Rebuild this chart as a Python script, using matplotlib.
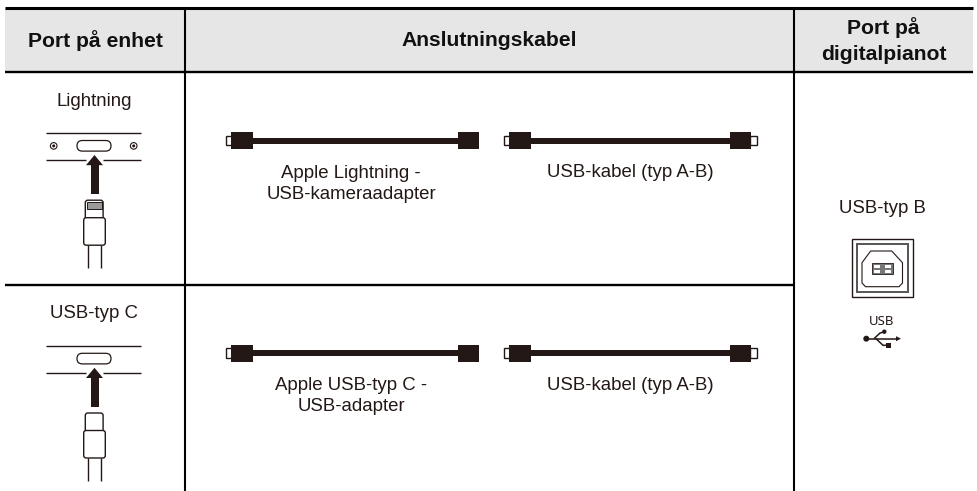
import matplotlib
matplotlib.use("Agg")
import matplotlib.pyplot as plt
from matplotlib.patches import FancyBboxPatch, Rectangle, Circle, Polygon

plt.rcParams["font.family"] = ["Liberation Sans", "DejaVu Sans"]

W, H = 978, 491
INK = "#231815"
HEAD_BG = "#e6e6e6"

headers = ["Port på enhet", "Anslutningskabel", "Port på\ndigitalpianot"]
device_ports = ["Lightning", "USB-typ C"]
left_cables = ["Apple Lightning -\nUSB-kameraadapter", "Apple USB-typ C -\nUSB-adapter"]
right_cable = "USB-kabel (typ A-B)"
piano_port = "USB-typ B"


def line(ax, xs, ys, lw=1.0, color=INK):
    ax.plot(xs, ys, color=color, lw=lw, solid_capstyle="butt", solid_joinstyle="miter")


def rrect(ax, x, y, w, h, r, fc="white", ec=INK, lw=0.9):
    ax.add_patch(FancyBboxPatch((x + r, y + r), w - 2 * r, h - 2 * r,
                                boxstyle=f"round,pad={r},rounding_size={r}",
                                fc=fc, ec=ec, lw=lw, zorder=3))


def cable(ax, x0, x1, y, left_tip, right_tip):
    # plug tip, black plug body, thick cord
    if left_tip:
        ax.add_patch(Rectangle((x0 - 5.5, y - 4.8), 7, 9.6, fc="white", ec=INK, lw=1.0))
    if right_tip:
        ax.add_patch(Rectangle((x1 - 1, y - 4.8), 7, 9.6, fc="white", ec=INK, lw=1.0))
    ax.add_patch(Rectangle((x0, y - 8.5), 21.5, 17, fc=INK, ec="none", zorder=2))
    ax.add_patch(Rectangle((x1 - 21.5, y - 8.5), 21.5, 17, fc=INK, ec="none", zorder=2))
    ax.add_patch(Rectangle((x0, y - 3.2), x1 - x0, 6.4, fc=INK, ec="none", zorder=2))


def device(ax, y, lightning):
    cx = 94.5
    # panel edge lines and socket
    line(ax, [46, 141], [y, y], 1.0)
    line(ax, [46, 86], [y + 27, y + 27], 1.0)
    line(ax, [103, 141], [y + 27, y + 27], 1.0)
    rrect(ax, 77, y + 7.8, 34, 10.6, 5.3)
    if lightning:
        for sx in (53.7, 133.7):
            ax.add_patch(Circle((sx, y + 13.2), 3.3, fc="white", ec=INK, lw=0.8, zorder=3))
            ax.add_patch(Circle((sx, y + 13.2), 1.5, fc=INK, ec="none", zorder=3))
    else:
        line(ax, [86, 101], [y + 13, y + 13], 1.0)
    # arrow
    ax.add_patch(Rectangle((cx - 4, y + 32), 8, 29, fc=INK, ec="none", zorder=4))
    ax.add_patch(Polygon([[cx, y + 22.3], [cx + 8.5, y + 32.5], [cx - 8.5, y + 32.5]],
                         fc=INK, ec="none", zorder=4))
    # plug tip, body, cord
    rrect(ax, 85.3, y + 67.5, 17.8, 20, 2.5, lw=1.0)
    if lightning:
        ax.add_patch(Rectangle((87, y + 69.5), 15, 6.5, fc="#9a9a9a", ec=INK, lw=0.7, zorder=4))
    rrect(ax, 83.7, y + 85, 21.6, 27.5, 2.5, lw=1.0)
    line(ax, [88, 88], [y + 112.5, y + 135], 1.0)
    line(ax, [101, 101], [y + 112.5, y + 135], 1.0)


def usb_b(ax):
    ax.add_patch(Rectangle((851.7, 239.3), 61, 57.4, fc="white", ec=INK, lw=1.0))
    ax.add_patch(Rectangle((856.7, 243.5), 51.6, 48.8, fc="white", ec="#555555", lw=1.4))
    ax.add_patch(Polygon([[870.7, 251], [891.7, 251], [902.5, 262.7], [902.5, 283], [899, 286.7],
                          [865.5, 286.7], [862, 283], [862, 262.7]],
                         fc="white", ec=INK, lw=0.8))
    ax.add_patch(Rectangle((871.7, 263.3), 21, 11, fc="#777777", ec=INK, lw=0.6))
    for x in (874, 885):
        for yy in (265, 270):
            ax.add_patch(Rectangle((x, yy), 6, 2.5, fc="white", ec="none"))


def usb_icon(ax):
    ax.text(882, 321.5, "USB", ha="center", va="center", fontsize=9.5, fontweight="medium",
            family=["Noto Sans", "DejaVu Sans"], color=INK)
    ax.add_patch(Circle((866.3, 338.7), 3, fc=INK, ec="none"))
    line(ax, [866, 897], [338.7, 338.7], 1.1)
    ax.add_patch(Polygon([[901, 338.7], [896, 336.2], [896, 341.2]], fc=INK, ec="none"))
    line(ax, [874, 880, 884], [338.7, 333, 332], 1.1)
    ax.add_patch(Circle((884.3, 331.7), 2.2, fc=INK, ec="none"))
    line(ax, [876, 883, 888], [338.7, 345.3, 345.3], 1.1)
    ax.add_patch(Rectangle((886, 343), 4.6, 4.6, fc=INK, ec="none"))


def main():
    fig = plt.figure(figsize=(W / 100, H / 100), dpi=100)
    ax = fig.add_axes([0, 0, 1, 1])
    ax.set_xlim(0, W)
    ax.set_ylim(H, 0)
    ax.axis("off")

    # header band and table rules
    ax.add_patch(Rectangle((5, 8), 968, 64, fc=HEAD_BG, ec="none", zorder=0))
    line(ax, [5, 973], [8.3, 8.3], 2.2, "black")
    line(ax, [5, 973], [72.3, 72.3], 1.7, "black")
    line(ax, [5, 794], [285, 285], 1.7, "black")
    line(ax, [185, 185], [8, H], 1.5, "black")
    line(ax, [794, 794], [8, H], 1.5, "black")

    for x, s in zip([95, 489.5, 883.5], headers):
        ax.text(x, 40.5, s, ha="center", va="center", fontsize=15.2, fontweight="bold",
                color="#111111", linespacing=1.5)

    for y, s in zip([101.5, 314], device_ports):
        ax.text(94, y, s, ha="center", va="center", fontsize=13.4, color=INK)
    for y, lightning in zip([132.7, 345.5], [True, False]):
        device(ax, y, lightning)

    for y, s in zip([140.7, 353.2], left_cables):
        cable(ax, 231, 479, y, True, False)
        cable(ax, 509, 751, y, True, True)
        ax.text(351, y + 43, s, ha="center", va="center", fontsize=13.4, color=INK, linespacing=1.3)
        ax.text(630, y + 32, right_cable, ha="center", va="center", fontsize=13.4, color=INK)

    ax.text(882, 208.5, piano_port, ha="center", va="center", fontsize=13.4, color=INK)
    usb_b(ax)
    usb_icon(ax)

    fig.savefig("out.png", dpi=100)


if __name__ == "__main__":
    main()
